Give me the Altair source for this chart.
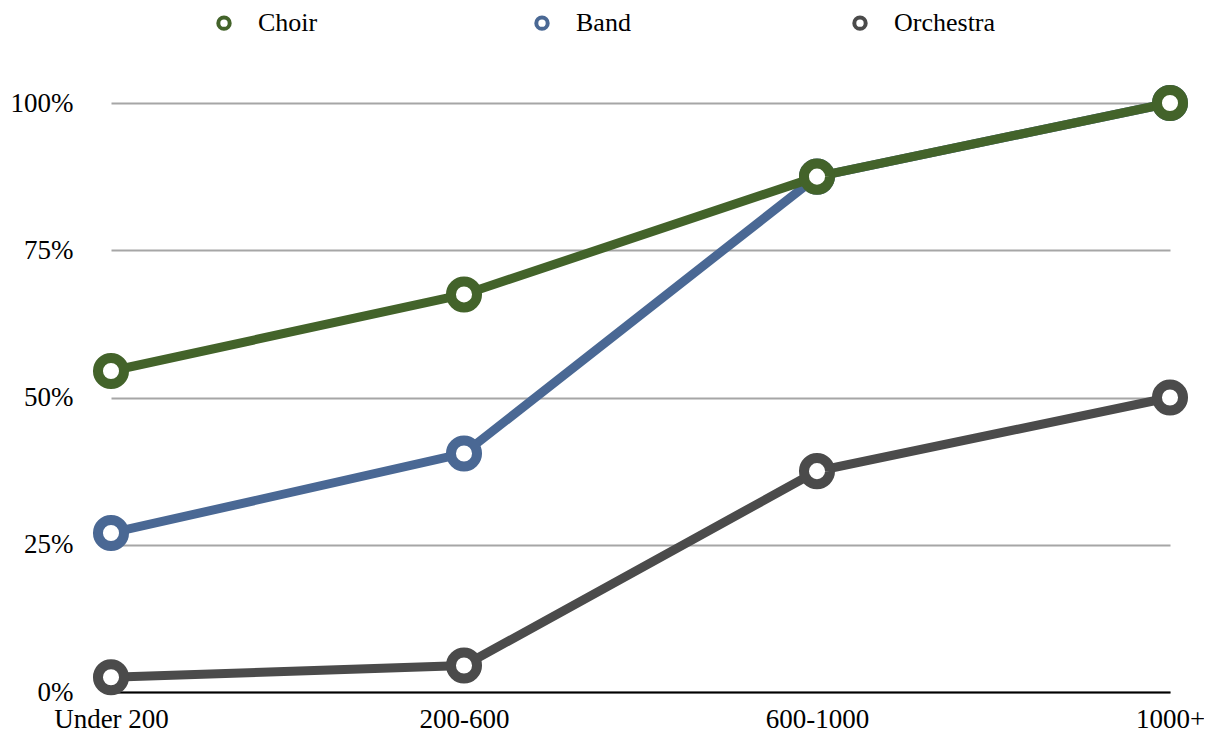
import altair as alt
import pandas as pd

categories = ["Under 200", "200-600", "600-1000", "1000+"]
series_names = ["Choir", "Band", "Orchestra"]
choir = [0.545, 0.675, 0.875, 1.0]
band = [0.27, 0.405, 0.875, 1.0]
orchestra = [0.025, 0.045, 0.375, 0.50]
colors = ["#43632a", "#4a6894", "#4b4b4b"]

rows = []
for name, vals in zip(series_names, [choir, band, orchestra]):
    for c, v in zip(categories, vals):
        rows.append({"size": c, "series": name, "value": v})
df = pd.DataFrame(rows)

FONT = "Liberation Serif"

x = alt.X("size:N", sort=categories, scale=alt.Scale(type="point", padding=0),
          axis=alt.Axis(title=None, labelAngle=0, ticks=False, grid=False,
                        domainColor="black", domainWidth=2, labelPadding=14,
                        labelFontSize=27, labelFont=FONT, labelColor="black"))
y = alt.Y("value:Q", scale=alt.Scale(domain=[0, 1]),
          axis=alt.Axis(title=None, values=[0, 0.25, 0.5, 0.75, 1], format=".0%",
                        domain=False, ticks=False, grid=True, gridColor="#a6a6a6",
                        gridWidth=2, labelPadding=38, labelFontSize=27,
                        labelFont=FONT, labelColor="black"))
color = alt.Color("series:N", scale=alt.Scale(domain=series_names, range=colors),
                  legend=alt.Legend(title=None, orient="none", direction="horizontal",
                                    columns=3, legendX=100, legendY=-93, padding=0,
                                    symbolType="circle", symbolFillColor="white",
                                    symbolStrokeWidth=4, symbolSize=130,
                                    labelFontSize=26, labelFont=FONT, labelColor="black",
                                    labelOffset=21, columnPadding=168, gridAlign="all"))

layers = []
for name in ["Orchestra", "Band", "Choir"]:
    base = alt.Chart(df).transform_filter(alt.datum.series == name)
    layers.append(base.mark_line(strokeWidth=9).encode(x=x, y=y, color=color))
    layers.append(base.mark_point(shape="circle", filled=False, fill="white", fillOpacity=1,
                                  strokeWidth=10, size=680, opacity=1).encode(x=x, y=y, color=color))

chart = alt.layer(*layers).properties(
    width=1059, height=589,
    autosize=alt.AutoSizeParams(type="none"),
    padding={"left": 103, "top": 95, "right": 34, "bottom": 46},
).configure_view(stroke=None)

chart.save("out.html", embed_options={"renderer": "svg", "actions": False})
